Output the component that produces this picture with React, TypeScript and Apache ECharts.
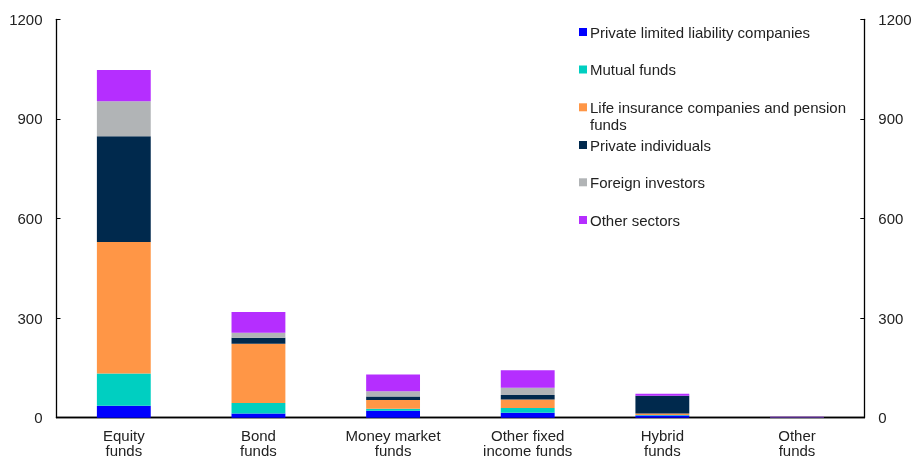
import React, { useEffect, useRef } from "react";
import * as echarts from "echarts";

const categories = [
  "Equity\nfunds",
  "Bond\nfunds",
  "Money market\nfunds",
  "Other fixed\nincome funds",
  "Hybrid\nfunds",
  "Other\nfunds",
];

const seriesNames = [
  "Private limited liability companies",
  "Mutual funds",
  "Life insurance companies and pension funds",
  "Private individuals",
  "Foreign investors",
  "Other sectors",
];

const privateLtd = [36, 13, 21, 15, 7, 0.3];
const mutualFunds = [97, 31, 6, 14, 1, 0];
const lifeInsurance = [396, 179, 26, 26, 5, 0.3];
const privateIndividuals = [319, 18, 11, 13, 53, 0.3];
const foreignInvestors = [105, 15, 16, 22, 0, 0.2];
const otherSectors = [94, 62, 50, 53, 6, 1.5];

const seriesData = [
  privateLtd,
  mutualFunds,
  lifeInsurance,
  privateIndividuals,
  foreignInvestors,
  otherSectors,
];

const colors = ["#0000FF", "#00CFC1", "#FF9646", "#00294D", "#B1B4B6", "#B52EFF"];

const yTicks = [0, 300, 600, 900, 1200];

const legendCenters = [32, 69.5, 107.3, 145, 182.3, 220];

export default function App() {
  const ref = useRef<HTMLDivElement>(null);

  useEffect(() => {
    if (!ref.current) return;
    const chart = echarts.init(ref.current, undefined, { renderer: "svg" });
    const font = "Liberation Sans, Arial, sans-serif";

    const legends = seriesNames.map((name, i) => {
      const twoLine = i === 2;
      return {
        show: true,
        data: [name],
        orient: "vertical" as const,
        left: 579,
        top: legendCenters[i] - 8.5,
        padding: 0,
        itemWidth: 8,
        itemHeight: twoLine ? 25 : 8,
        icon: twoLine ? "path://M0,0L8,0L8,8L0,8Z M0,25" : "rect",
        selectedMode: false,
        formatter: twoLine
          ? () => "Life insurance companies and pension\nfunds"
          : undefined,
        textStyle: {
          fontFamily: font,
          fontSize: 15,
          color: "#222",
          lineHeight: 17,
          padding: [0, 0, 0, -2],
        },
      };
    });

    chart.setOption({
      animation: false,
      color: colors,
      textStyle: { fontFamily: font },
      legend: legends,
      grid: {
        left: 56.5,
        right: 47.7,
        top: 19.3,
        bottom: 41.3,
        containLabel: false,
        outerBoundsMode: "none",
      },
      xAxis: [
        {
          type: "category",
          data: categories,
          position: "bottom",
          axisLine: { show: true, lineStyle: { color: "#000", width: 1.3 } },
          axisTick: { show: false },
          axisLabel: {
            fontFamily: font,
            fontSize: 15,
            color: "#222",
            lineHeight: 15.5,
            margin: 10,
            interval: 0,
          },
        },
        {
          type: "category",
          data: categories,
          position: "top",
          axisLine: { show: true, lineStyle: { color: "#000", width: 1.3 } },
          axisTick: { show: false },
          axisLabel: { show: false },
        },
      ],
      yAxis: [
        {
          type: "value",
          min: 0,
          max: 1200,
          interval: 300,
          position: "left",
          axisLine: { show: true, lineStyle: { color: "#000", width: 1.3 } },
          axisTick: { show: true, inside: true, length: 4, lineStyle: { color: "#000" } },
          splitLine: { show: false },
          axisLabel: {
            fontFamily: font,
            fontSize: 15,
            color: "#222",
            margin: 14,
            formatter: (v: number) => (yTicks.includes(v) ? String(v) : ""),
          },
        },
        {
          type: "value",
          min: 0,
          max: 1200,
          interval: 300,
          position: "right",
          axisLine: { show: true, lineStyle: { color: "#000", width: 1.3 } },
          axisTick: { show: true, inside: true, length: 4, lineStyle: { color: "#000" } },
          splitLine: { show: false },
          axisLabel: {
            fontFamily: font,
            fontSize: 15,
            color: "#222",
            margin: 14,
            formatter: (v: number) => (yTicks.includes(v) ? String(v) : ""),
          },
        },
      ],
      series: seriesNames.map((name, i) => ({
        name,
        type: "bar",
        stack: "total",
        xAxisIndex: 0,
        yAxisIndex: 0,
        barWidth: "40%",
        data: seriesData[i],
        itemStyle: { color: colors[i] },
      })),
    });

    return () => chart.dispose();
  }, []);

  return (
    <div
      ref={ref}
      style={{ position: "fixed", left: 0, top: 0, width: 912, height: 459 }}
    />
  );
}
